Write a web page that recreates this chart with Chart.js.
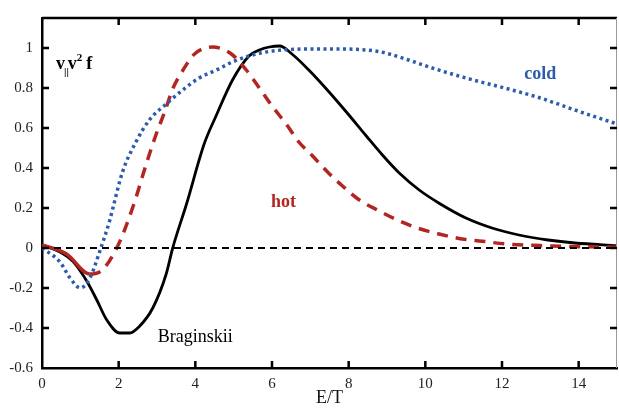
<!DOCTYPE html>
<html>
<head>
<meta charset="utf-8">
<script src="https://cdn.jsdelivr.net/npm/chart.js@4"></script>
<style>
  body { margin: 0; background: #fff; }
  #chart { display: block; }
</style>
</head>
<body>
<canvas id="chart" width="619" height="409"></canvas>
<script>
// values
const xTicks = [0, 2, 4, 6, 8, 10, 12, 14];
const yTicks = [-0.6, -0.4, -0.2, 0, 0.2, 0.4, 0.6, 0.8, 1];

const bragX = [0, 0.47, 0.81, 1.17, 1.43, 1.69, 2.03, 2.29, 2.55, 2.89, 3.24, 3.41, 3.77, 4.23, 4.54, 4.97, 5.4, 5.67, 5.93, 6.2, 6.52, 6.96, 7.42, 7.94, 8.46, 8.88, 9.32, 9.84, 10.36, 11.06, 11.74, 12.44, 13.2, 13.9, 15];
const bragY = [0.015, -0.02, -0.068, -0.166, -0.26, -0.36, -0.425, -0.425, -0.39, -0.3, -0.13, 0, 0.22, 0.52, 0.66, 0.84, 0.96, 0.99, 1.005, 1.01, 0.97, 0.89, 0.795, 0.68, 0.56, 0.465, 0.375, 0.29, 0.224, 0.15, 0.10, 0.065, 0.04, 0.025, 0.012];

const hotX = [0, 0.64, 1.25, 1.5, 1.95, 2.38, 2.72, 2.98, 3.2, 3.42, 3.68, 3.98, 4.45, 4.94, 5.33, 5.67, 6.0, 6.37, 6.7, 7.06, 7.45, 7.84, 8.28, 8.75, 9.27, 9.79, 10.36, 10.96, 11.48, 12.1, 13.0, 13.9, 15];
const hotY = [0.015, -0.03, -0.13, -0.12, 0, 0.21, 0.42, 0.57, 0.68, 0.8, 0.89, 0.97, 1.005, 0.97, 0.89, 0.8, 0.71, 0.62, 0.53, 0.46, 0.38, 0.31, 0.24, 0.19, 0.14, 0.10, 0.07, 0.045, 0.034, 0.02, 0.012, 0.007, 0.004];

const coldX = [0, 0.47, 0.73, 1.0, 1.25, 1.5, 1.77, 1.85, 2.1, 2.45, 2.8, 3.24, 3.67, 4.1, 4.55, 4.97, 5.4, 5.84, 6.27, 6.9, 7.82, 8.7, 9.06, 9.56, 10.18, 11.06, 12.36, 13.0, 13.9, 15];
const coldY = [0, -0.07, -0.15, -0.2, -0.15, -0.02, 0.14, 0.2, 0.38, 0.53, 0.64, 0.72, 0.79, 0.85, 0.89, 0.93, 0.96, 0.98, 0.99, 0.995, 0.995, 0.985, 0.97, 0.94, 0.9, 0.85, 0.785, 0.75, 0.69, 0.62];

const zeroX = [0, 15];
const zeroY = [0, 0];

const RED = "rgb(178, 38, 34)";
const BLUE = "rgb(46, 92, 172)";
const SERIF = "'Liberation Serif', 'DejaVu Serif', serif";

function pts(xs, ys) {
  return xs.map((x, i) => ({ x: x, y: ys[i] }));
}

// inner ticks, frame and the text labels
const decor = {
  id: "decor",
  afterDraw(chart) {
    const ctx = chart.ctx;
    const a = chart.chartArea;
    const sx = chart.scales.x;
    const sy = chart.scales.y;
    ctx.save();
    ctx.strokeStyle = "#000";
    ctx.lineWidth = 2.5;
    ctx.beginPath();
    ctx.moveTo(a.left, a.top);
    ctx.lineTo(a.right, a.top);
    ctx.stroke();
    ctx.strokeStyle = "#999";
    ctx.lineWidth = 1;
    ctx.beginPath();
    ctx.moveTo(a.right - 0.5, a.top);
    ctx.lineTo(a.right - 0.5, a.bottom);
    ctx.stroke();

    ctx.strokeStyle = "#000";
    ctx.lineWidth = 2.5;
    ctx.beginPath();
    xTicks.forEach((v) => {
      if (v === 0) return;
      const px = sx.getPixelForValue(v);
      ctx.moveTo(px, a.bottom);
      ctx.lineTo(px, a.bottom - 7);
      ctx.moveTo(px, a.top);
      ctx.lineTo(px, a.top + 7);
    });
    yTicks.forEach((v) => {
      if (v === -0.6) return;
      const py = sy.getPixelForValue(v);
      ctx.moveTo(a.left, py);
      ctx.lineTo(a.left + 7, py);
      ctx.moveTo(a.right, py);
      ctx.lineTo(a.right - 7, py);
    });
    ctx.stroke();

    ctx.textBaseline = "middle";
    ctx.textAlign = "center";
    ctx.font = "bold 18px " + SERIF;
    ctx.fillStyle = BLUE;
    ctx.fillText("cold", sx.getPixelForValue(13.0), sy.getPixelForValue(0.87));
    ctx.fillStyle = RED;
    ctx.fillText("hot", sx.getPixelForValue(6.3), sy.getPixelForValue(0.23));
    ctx.fillStyle = "#000";
    ctx.font = "18px " + SERIF;
    ctx.fillText("Braginskii", sx.getPixelForValue(4.0), sy.getPixelForValue(-0.445));

    // y label: v|| v^2 f
    ctx.textAlign = "left";
    ctx.textBaseline = "alphabetic";
    let x0 = 56, base = 69;
    ctx.font = "bold 18px " + SERIF;
    ctx.fillText("v", x0, base);
    x0 += ctx.measureText("v").width - 1;
    ctx.font = "bold 11px " + SERIF;
    ctx.fillText("||", x0, base + 6);
    x0 += ctx.measureText("||").width - 1;
    ctx.font = "bold 18px " + SERIF;
    ctx.fillText("v", x0, base);
    x0 += ctx.measureText("v").width;
    ctx.font = "bold 11px " + SERIF;
    ctx.fillText("2", x0, base - 8);
    x0 += ctx.measureText("2").width + 4;
    ctx.font = "bold 18px " + SERIF;
    ctx.fillText("f", x0, base);
    ctx.restore();
  },
};

new Chart(document.querySelector("#chart"), {
  type: "line",
  data: {
    datasets: [
      {
        label: "zero",
        data: pts(zeroX, zeroY),
        borderColor: "#000",
        borderWidth: 2,
        borderDash: [7, 5],
        pointRadius: 0,
      },
      {
        label: "cold",
        data: pts(coldX, coldY),
        borderColor: BLUE,
        borderWidth: 3.5,
        borderDash: [3, 3.5],
        pointRadius: 0,
        cubicInterpolationMode: "monotone",
      },
      {
        label: "hot",
        data: pts(hotX, hotY),
        borderColor: RED,
        borderWidth: 3.5,
        borderDash: [11, 8],
        pointRadius: 0,
        cubicInterpolationMode: "monotone",
        segment: {
          borderDash: (c) => (c.p0.parsed.x < 1.2 ? [] : undefined),
        },
      },
      {
        label: "Braginskii",
        data: pts(bragX, bragY),
        borderColor: "#000",
        borderWidth: 2.8,
        pointRadius: 0,
        cubicInterpolationMode: "monotone",
      },
    ],
  },
  options: {
    responsive: false,
    devicePixelRatio: 1,
    animation: false,
    layout: { padding: { top: 10, right: 2, left: 0, bottom: 0 } },
    plugins: { legend: { display: false }, tooltip: { enabled: false } },
    scales: {
      x: {
        type: "linear",
        min: 0,
        max: 15,
        grid: { display: false, drawTicks: false },
        border: { display: true, color: "#000", width: 2.5 },
        afterFit: (s) => { s.height = 41; },
        afterBuildTicks: (s) => { s.ticks = xTicks.map((v) => ({ value: v })); },
        ticks: {
          padding: 7,
          color: "#222",
          font: { family: SERIF, size: 15 },
          maxRotation: 0,
        },
        title: {
          display: true,
          text: "E/T",
          color: "#111",
          font: { family: SERIF, size: 18 },
          padding: { top: 0, bottom: 0 },
        },
      },
      y: {
        type: "linear",
        min: -0.6,
        max: 1.15,
        grid: { display: false, drawTicks: false },
        border: { display: true, color: "#000", width: 2.5 },
        afterFit: (s) => { s.width = 42; },
        afterBuildTicks: (s) => { s.ticks = yTicks.map((v) => ({ value: v })); },
        ticks: {
          padding: 9,
          color: "#222",
          font: { family: SERIF, size: 15 },
          callback: (v) => String(Math.round(v * 10) / 10),
        },
      },
    },
  },
  plugins: [decor],
});
</script>
</body>
</html>
